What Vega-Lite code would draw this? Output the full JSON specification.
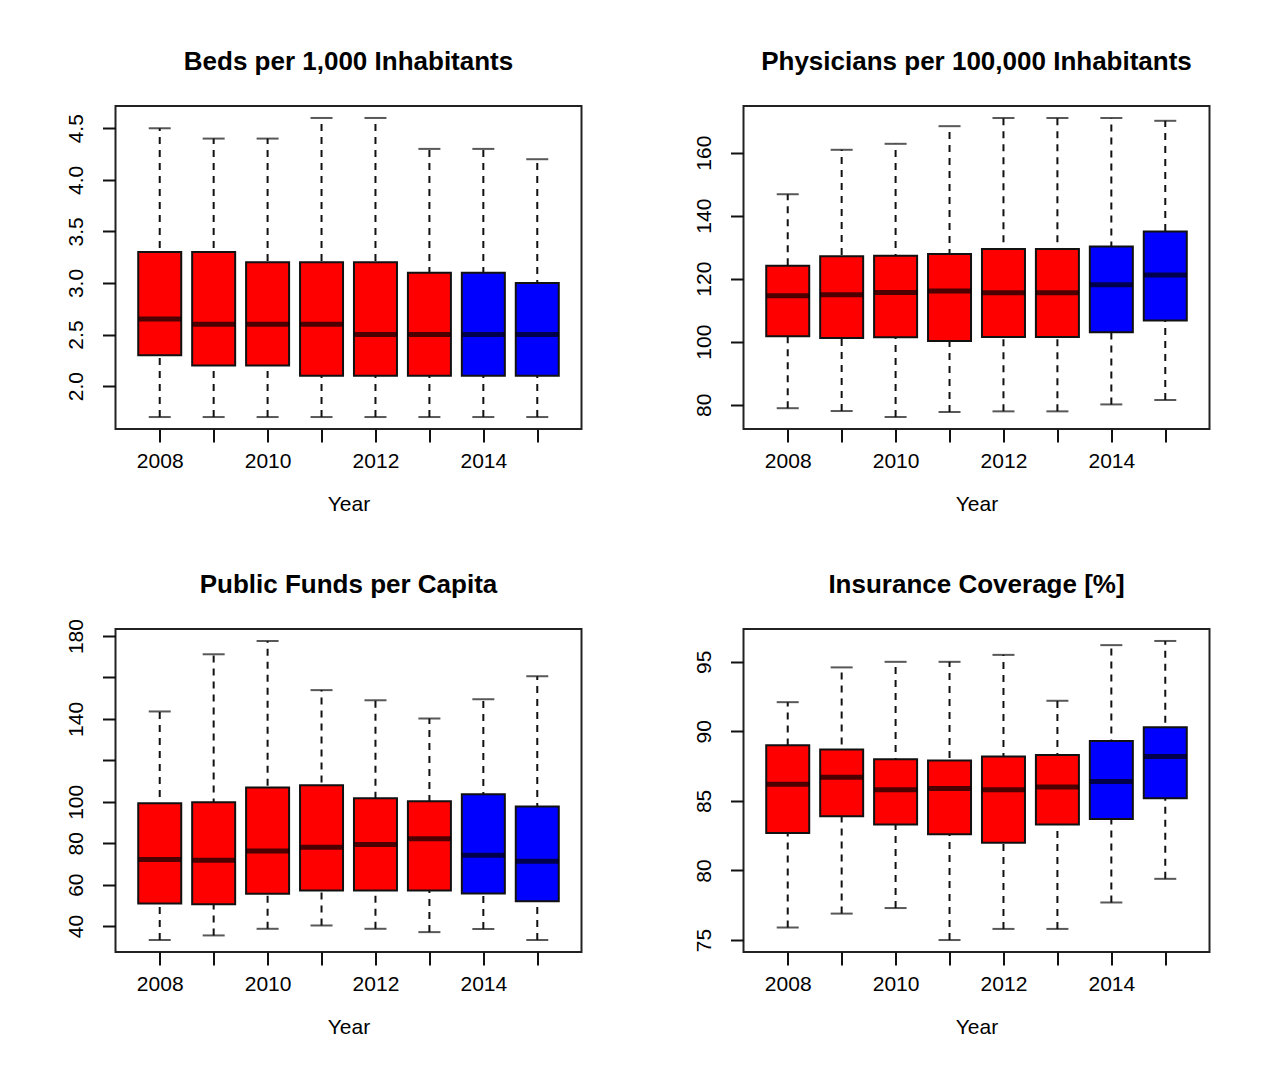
{
  "$schema": "https://vega.github.io/schema/vega-lite/v6.json",
  "padding": {"left": 63.5, "top": 48, "right": 5, "bottom": 5},
  "background": "white",
  "datasets": {
    "stats": [
      {"panel": "beds", "year": 2008, "min": 1.7, "q1": 2.3, "med": 2.65, "q3": 3.3, "max": 4.5, "period": "early"},
      {"panel": "beds", "year": 2009, "min": 1.7, "q1": 2.2, "med": 2.6, "q3": 3.3, "max": 4.4, "period": "early"},
      {"panel": "beds", "year": 2010, "min": 1.7, "q1": 2.2, "med": 2.6, "q3": 3.2, "max": 4.4, "period": "early"},
      {"panel": "beds", "year": 2011, "min": 1.7, "q1": 2.1, "med": 2.6, "q3": 3.2, "max": 4.6, "period": "early"},
      {"panel": "beds", "year": 2012, "min": 1.7, "q1": 2.1, "med": 2.5, "q3": 3.2, "max": 4.6, "period": "early"},
      {"panel": "beds", "year": 2013, "min": 1.7, "q1": 2.1, "med": 2.5, "q3": 3.1, "max": 4.3, "period": "early"},
      {"panel": "beds", "year": 2014, "min": 1.7, "q1": 2.1, "med": 2.5, "q3": 3.1, "max": 4.3, "period": "late"},
      {"panel": "beds", "year": 2015, "min": 1.7, "q1": 2.1, "med": 2.5, "q3": 3.0, "max": 4.2, "period": "late"},
      {"panel": "phys", "year": 2008, "min": 78.9, "q1": 101.7, "med": 114.6, "q3": 124.1, "max": 146.8, "period": "early"},
      {"panel": "phys", "year": 2009, "min": 78.0, "q1": 101.2, "med": 114.9, "q3": 127.1, "max": 160.9, "period": "early"},
      {"panel": "phys", "year": 2010, "min": 76.1, "q1": 101.4, "med": 115.6, "q3": 127.3, "max": 162.8, "period": "early"},
      {"panel": "phys", "year": 2011, "min": 77.7, "q1": 100.2, "med": 116.1, "q3": 127.8, "max": 168.4, "period": "early"},
      {"panel": "phys", "year": 2012, "min": 77.9, "q1": 101.5, "med": 115.5, "q3": 129.4, "max": 171.0, "period": "early"},
      {"panel": "phys", "year": 2013, "min": 77.9, "q1": 101.5, "med": 115.5, "q3": 129.4, "max": 171.0, "period": "early"},
      {"panel": "phys", "year": 2014, "min": 80.1, "q1": 103.0, "med": 118.1, "q3": 130.2, "max": 171.0, "period": "late"},
      {"panel": "phys", "year": 2015, "min": 81.5, "q1": 106.7, "med": 121.2, "q3": 135.0, "max": 170.1, "period": "late"},
      {"panel": "funds", "year": 2008, "min": 33.3, "q1": 50.9, "med": 72.1, "q3": 99.3, "max": 143.6, "period": "early"},
      {"panel": "funds", "year": 2009, "min": 35.5, "q1": 50.6, "med": 71.8, "q3": 99.8, "max": 171.2, "period": "early"},
      {"panel": "funds", "year": 2010, "min": 38.7, "q1": 55.6, "med": 76.2, "q3": 106.9, "max": 177.6, "period": "early"},
      {"panel": "funds", "year": 2011, "min": 40.3, "q1": 57.2, "med": 78.0, "q3": 108.0, "max": 153.9, "period": "early"},
      {"panel": "funds", "year": 2012, "min": 38.7, "q1": 57.2, "med": 79.4, "q3": 101.7, "max": 149.0, "period": "early"},
      {"panel": "funds", "year": 2013, "min": 37.1, "q1": 57.2, "med": 82.2, "q3": 100.3, "max": 140.2, "period": "early"},
      {"panel": "funds", "year": 2014, "min": 38.6, "q1": 55.7, "med": 74.2, "q3": 103.7, "max": 149.5, "period": "late"},
      {"panel": "funds", "year": 2015, "min": 33.3, "q1": 52.0, "med": 71.3, "q3": 97.7, "max": 160.6, "period": "late"},
      {"panel": "ins", "year": 2008, "min": 75.9, "q1": 82.7, "med": 86.2, "q3": 89.0, "max": 92.1, "period": "early"},
      {"panel": "ins", "year": 2009, "min": 76.9, "q1": 83.9, "med": 86.7, "q3": 88.7, "max": 94.6, "period": "early"},
      {"panel": "ins", "year": 2010, "min": 77.3, "q1": 83.3, "med": 85.8, "q3": 88.0, "max": 95.0, "period": "early"},
      {"panel": "ins", "year": 2011, "min": 75.0, "q1": 82.6, "med": 85.9, "q3": 87.9, "max": 95.0, "period": "early"},
      {"panel": "ins", "year": 2012, "min": 75.8, "q1": 82.0, "med": 85.8, "q3": 88.2, "max": 95.5, "period": "early"},
      {"panel": "ins", "year": 2013, "min": 75.8, "q1": 83.3, "med": 86.0, "q3": 88.3, "max": 92.2, "period": "early"},
      {"panel": "ins", "year": 2014, "min": 77.7, "q1": 83.7, "med": 86.4, "q3": 89.3, "max": 96.2, "period": "late"},
      {"panel": "ins", "year": 2015, "min": 79.4, "q1": 85.2, "med": 88.2, "q3": 90.3, "max": 96.5, "period": "late"}
    ]
  },
  "data": {"name": "stats"},
  "columns": 2,
  "spacing": {"row": 200, "column": 162},
  "bounds": "flush",
  "concat": [
    {
      "width": 466, "height": 323,
      "title": "Beds per 1,000 Inhabitants",
      "transform": [{"filter": "datum.panel == 'beds'"}],
      "encoding": {
        "x": {"field": "year", "type": "quantitative", "scale": {"domain": [2007.18, 2015.82], "nice": false, "zero": false, "padding": 0},
              "axis": {"values": [2008, 2009, 2010, 2011, 2012, 2013, 2014, 2015], "format": "d", "labelExpr": "datum.value % 2 == 0 ? datum.label : ''", "title": "Year"}}
      },
      "layer": [
        {"mark": {"type": "rule", "strokeDash": [7, 6], "strokeWidth": 2, "color": "#111"},
         "encoding": {"y": {"field": "min", "type": "quantitative", "scale": {"domain": [1.584, 4.716], "nice": false, "zero": false, "padding": 0}, "axis": {"values": [2.0, 2.5, 3.0, 3.5, 4.0, 4.5], "format": ".1f", "title": null}}, "y2": {"field": "max"}}},
        {"mark": {"type": "tick", "orient": "horizontal", "size": 22, "thickness": 2, "color": "#111"}, "encoding": {"y": {"field": "min", "type": "quantitative"}}},
        {"mark": {"type": "tick", "orient": "horizontal", "size": 22, "thickness": 2, "color": "#111"}, "encoding": {"y": {"field": "max", "type": "quantitative"}}},
        {"mark": {"type": "bar", "width": 43, "stroke": "#111", "strokeWidth": 2},
         "encoding": {"y": {"field": "q1", "type": "quantitative"}, "y2": {"field": "q3"},
                      "color": {"field": "period", "type": "nominal", "scale": {"domain": ["early", "late"], "range": ["#ff0000", "#0000ff"]}, "legend": null}}},
        {"mark": {"type": "tick", "orient": "horizontal", "size": 43, "thickness": 5, "color": "#000"}, "encoding": {"y": {"field": "med", "type": "quantitative"}}}
      ]
    },
    {
      "width": 466, "height": 323,
      "title": "Physicians per 100,000 Inhabitants",
      "transform": [{"filter": "datum.panel == 'phys'"}],
      "encoding": {
        "x": {"field": "year", "type": "quantitative", "scale": {"domain": [2007.18, 2015.82], "nice": false, "zero": false, "padding": 0},
              "axis": {"values": [2008, 2009, 2010, 2011, 2012, 2013, 2014, 2015], "format": "d", "labelExpr": "datum.value % 2 == 0 ? datum.label : ''", "title": "Year"}}
      },
      "layer": [
        {"mark": {"type": "rule", "strokeDash": [7, 6], "strokeWidth": 2, "color": "#111"},
         "encoding": {"y": {"field": "min", "type": "quantitative", "scale": {"domain": [72.3, 174.8], "nice": false, "zero": false, "padding": 0}, "axis": {"values": [80, 100, 120, 140, 160], "title": null}}, "y2": {"field": "max"}}},
        {"mark": {"type": "tick", "orient": "horizontal", "size": 22, "thickness": 2, "color": "#111"}, "encoding": {"y": {"field": "min", "type": "quantitative"}}},
        {"mark": {"type": "tick", "orient": "horizontal", "size": 22, "thickness": 2, "color": "#111"}, "encoding": {"y": {"field": "max", "type": "quantitative"}}},
        {"mark": {"type": "bar", "width": 43, "stroke": "#111", "strokeWidth": 2},
         "encoding": {"y": {"field": "q1", "type": "quantitative"}, "y2": {"field": "q3"},
                      "color": {"field": "period", "type": "nominal", "scale": {"domain": ["early", "late"], "range": ["#ff0000", "#0000ff"]}, "legend": null}}},
        {"mark": {"type": "tick", "orient": "horizontal", "size": 43, "thickness": 5, "color": "#000"}, "encoding": {"y": {"field": "med", "type": "quantitative"}}}
      ]
    },
    {
      "width": 466, "height": 323,
      "title": {"text": "Public Funds per Capita", "offset": 21},
      "transform": [{"filter": "datum.panel == 'funds'"}],
      "encoding": {
        "x": {"field": "year", "type": "quantitative", "scale": {"domain": [2007.18, 2015.82], "nice": false, "zero": false, "padding": 0},
              "axis": {"values": [2008, 2009, 2010, 2011, 2012, 2013, 2014, 2015], "format": "d", "labelExpr": "datum.value % 2 == 0 ? datum.label : ''", "title": "Year"}}
      },
      "layer": [
        {"mark": {"type": "rule", "strokeDash": [7, 6], "strokeWidth": 2, "color": "#111"},
         "encoding": {"y": {"field": "min", "type": "quantitative", "scale": {"domain": [27.5, 183.4], "nice": false, "zero": false, "padding": 0}, "axis": {"values": [40, 60, 80, 100, 120, 140, 160, 180], "labelExpr": "datum.value == 120 || datum.value == 160 ? '' : datum.label", "title": null}}, "y2": {"field": "max"}}},
        {"mark": {"type": "tick", "orient": "horizontal", "size": 22, "thickness": 2, "color": "#111"}, "encoding": {"y": {"field": "min", "type": "quantitative"}}},
        {"mark": {"type": "tick", "orient": "horizontal", "size": 22, "thickness": 2, "color": "#111"}, "encoding": {"y": {"field": "max", "type": "quantitative"}}},
        {"mark": {"type": "bar", "width": 43, "stroke": "#111", "strokeWidth": 2},
         "encoding": {"y": {"field": "q1", "type": "quantitative"}, "y2": {"field": "q3"},
                      "color": {"field": "period", "type": "nominal", "scale": {"domain": ["early", "late"], "range": ["#ff0000", "#0000ff"]}, "legend": null}}},
        {"mark": {"type": "tick", "orient": "horizontal", "size": 43, "thickness": 5, "color": "#000"}, "encoding": {"y": {"field": "med", "type": "quantitative"}}}
      ]
    },
    {
      "width": 466, "height": 323,
      "title": "Insurance Coverage [%]",
      "transform": [{"filter": "datum.panel == 'ins'"}],
      "encoding": {
        "x": {"field": "year", "type": "quantitative", "scale": {"domain": [2007.18, 2015.82], "nice": false, "zero": false, "padding": 0},
              "axis": {"values": [2008, 2009, 2010, 2011, 2012, 2013, 2014, 2015], "format": "d", "labelExpr": "datum.value % 2 == 0 ? datum.label : ''", "title": "Year"}}
      },
      "layer": [
        {"mark": {"type": "rule", "strokeDash": [7, 6], "strokeWidth": 2, "color": "#111"},
         "encoding": {"y": {"field": "min", "type": "quantitative", "scale": {"domain": [74.14, 97.36], "nice": false, "zero": false, "padding": 0}, "axis": {"values": [75, 80, 85, 90, 95], "title": null}}, "y2": {"field": "max"}}},
        {"mark": {"type": "tick", "orient": "horizontal", "size": 22, "thickness": 2, "color": "#111"}, "encoding": {"y": {"field": "min", "type": "quantitative"}}},
        {"mark": {"type": "tick", "orient": "horizontal", "size": 22, "thickness": 2, "color": "#111"}, "encoding": {"y": {"field": "max", "type": "quantitative"}}},
        {"mark": {"type": "bar", "width": 43, "stroke": "#111", "strokeWidth": 2},
         "encoding": {"y": {"field": "q1", "type": "quantitative"}, "y2": {"field": "q3"},
                      "color": {"field": "period", "type": "nominal", "scale": {"domain": ["early", "late"], "range": ["#ff0000", "#0000ff"]}, "legend": null}}},
        {"mark": {"type": "tick", "orient": "horizontal", "size": 43, "thickness": 5, "color": "#000"}, "encoding": {"y": {"field": "med", "type": "quantitative"}}}
      ]
    }
  ],
  "config": {
    "font": "Liberation Sans",
    "scale": {"continuousPadding": 0},
    "view": {"stroke": "#222", "strokeWidth": 2},
    "title": {"font": "Liberation Sans", "fontSize": 26, "fontWeight": "bold", "color": "#000", "offset": 31, "anchor": "middle", "frame": "group"},
    "axis": {
      "grid": false, "domain": false,
      "tickSize": 13, "tickWidth": 2, "tickColor": "#111",
      "labelFont": "Liberation Sans", "labelFontSize": 21, "labelColor": "#000",
      "labelOverlap": false, "labelFlush": false, "labelBound": false,
      "titleFont": "Liberation Sans", "titleFontSize": 21, "titleFontWeight": "normal", "titleColor": "#000", "titlePadding": 22
    },
    "axisX": {"labelPadding": 8.5},
    "axisY": {"labelAngle": -90, "labelAlign": "center", "labelBaseline": "bottom", "labelPadding": 16}
  }
}
